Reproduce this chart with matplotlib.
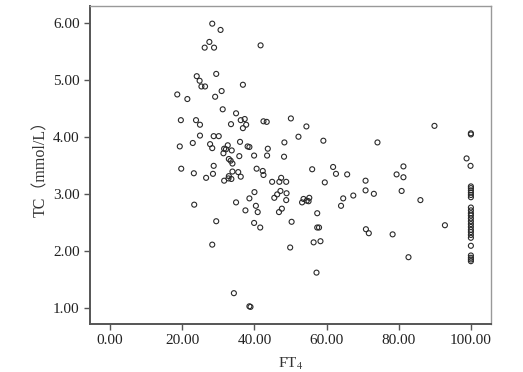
import matplotlib
matplotlib.use("Agg")
import matplotlib.pyplot as plt

# FT4 values (x) and TC values (y)
ft4 = [28.3, 30.6, 27.5, 26.2, 28.8, 41.7, 24.0, 24.8, 29.4, 25.3,
       26.3, 36.8, 18.6, 21.4, 30.9, 29.1, 31.2, 34.9, 37.3, 37.7,
       36.2, 33.5, 36.8, 19.6, 23.8, 24.9, 24.9, 28.7, 30.1, 19.3,
       22.9, 27.7, 28.3, 31.6, 32.6, 31.4, 33.7, 36.0, 38.1, 38.6,
       32.9, 33.4, 33.9, 35.8, 39.9, 19.7, 23.2, 28.7, 28.5, 26.6,
       32.9, 33.9, 35.5, 32.8, 36.2, 31.6, 33.6, 40.6, 32.1, 23.3,
       34.9, 38.6, 40.0, 40.4, 37.5, 40.9, 29.4, 39.9, 41.6, 28.3,
       34.3, 38.6, 38.9,
       42.5, 43.4, 50.1, 54.4, 52.2, 48.3, 59.1, 74.1, 89.9, 43.7,
       43.5, 48.2, 42.3, 42.5, 56.0, 61.8, 62.6, 65.7, 79.4, 81.3,
       81.3, 44.9, 46.9, 47.4, 48.8, 59.5, 70.8, 70.8, 45.5, 46.3,
       47.2, 48.9, 48.8, 47.6, 46.8, 50.3, 49.9, 53.2, 53.6, 54.5,
       55.2, 55.0, 57.4, 57.4, 57.9, 56.4, 58.3, 57.2, 64.0, 64.6,
       67.4, 73.1, 70.9, 71.7, 78.3, 80.8, 86.0, 82.7, 92.8, 98.8,
       99.9]
tc = [5.98, 5.87, 5.66, 5.56, 5.56, 5.60, 5.06, 4.98, 5.10, 4.88,
      4.88, 4.91, 4.74, 4.66, 4.80, 4.70, 4.48, 4.41, 4.31, 4.21,
      4.29, 4.22, 4.15, 4.29, 4.29, 4.21, 4.02, 4.01, 4.01, 3.83,
      3.89, 3.87, 3.80, 3.79, 3.85, 3.71, 3.76, 3.91, 3.83, 3.82,
      3.61, 3.58, 3.53, 3.66, 3.67, 3.44, 3.36, 3.49, 3.35, 3.28,
      3.31, 3.39, 3.38, 3.27, 3.30, 3.23, 3.26, 3.44, 3.78, 2.81,
      2.85, 2.92, 3.03, 2.79, 2.71, 2.68, 2.52, 2.49, 2.41, 2.11,
      1.26, 1.03, 1.02,
      4.27, 4.26, 4.32, 4.18, 4.00, 3.90, 3.93, 3.90, 4.19, 3.79,
      3.67, 3.65, 3.40, 3.33, 3.43, 3.47, 3.35, 3.34, 3.34, 3.48,
      3.29, 3.21, 3.21, 3.28, 3.21, 3.20, 3.23, 3.06, 2.93, 2.99,
      3.05, 3.01, 2.89, 2.74, 2.68, 2.51, 2.06, 2.85, 2.91, 2.88,
      2.93, 2.87, 2.66, 2.41, 2.41, 2.15, 2.17, 1.62, 2.79, 2.92,
      2.97, 3.00, 2.38, 2.31, 2.29, 3.05, 2.89, 1.89, 2.45, 3.62,
      3.49]

# the stack of patients at FT4 = 100
tc_at_100 = [4.06, 4.04, 3.13, 3.10, 3.06, 3.02, 2.98, 2.94, 2.76, 2.71,
             2.66, 2.62, 2.57, 2.52, 2.47, 2.42, 2.37, 2.33, 2.28, 2.23,
             2.09, 1.92, 1.88, 1.85, 1.82]
ft4 = ft4 + [100.0] * len(tc_at_100)
tc = tc + tc_at_100

x_ticks = [0, 20, 40, 60, 80, 100]
y_ticks = [1, 2, 3, 4, 5, 6]

plt.rcParams["font.family"] = ["Liberation Serif", "Noto Sans CJK SC"]
plt.rcParams["mathtext.fontset"] = "stix"

fig = plt.figure(figsize=(5.23, 3.72), dpi=100)
ax = fig.add_axes([0.172, 0.129, 0.767, 0.855])

ax.scatter(ft4, tc, s=13, facecolors="none", edgecolors="#2a2a2a", linewidths=0.8)

ax.set_xlim(-5.6, 105.6)
ax.set_ylim(0.72, 6.29)
ax.set_xticks(x_ticks)
ax.set_yticks(y_ticks)
ax.set_xticklabels(["%.2f" % v for v in x_ticks])
ax.set_yticklabels(["%.2f" % v for v in y_ticks])
ax.tick_params(direction="out", length=4, width=1, colors="#555555",
               labelcolor="#222222", labelsize=11, top=False, right=False)

for side in ("left", "bottom"):
    ax.spines[side].set_color("#555555")
    ax.spines[side].set_linewidth(1.4)
for side in ("top", "right"):
    ax.spines[side].set_color("#999999")
    ax.spines[side].set_linewidth(1.0)

ax.set_xlabel("FT$_{4}$", fontsize=11, color="#333333", labelpad=6)
ax.set_ylabel("TC（mmol/L）", fontsize=11.5, color="#333333", labelpad=3)

fig.savefig("out.png", dpi=100)
